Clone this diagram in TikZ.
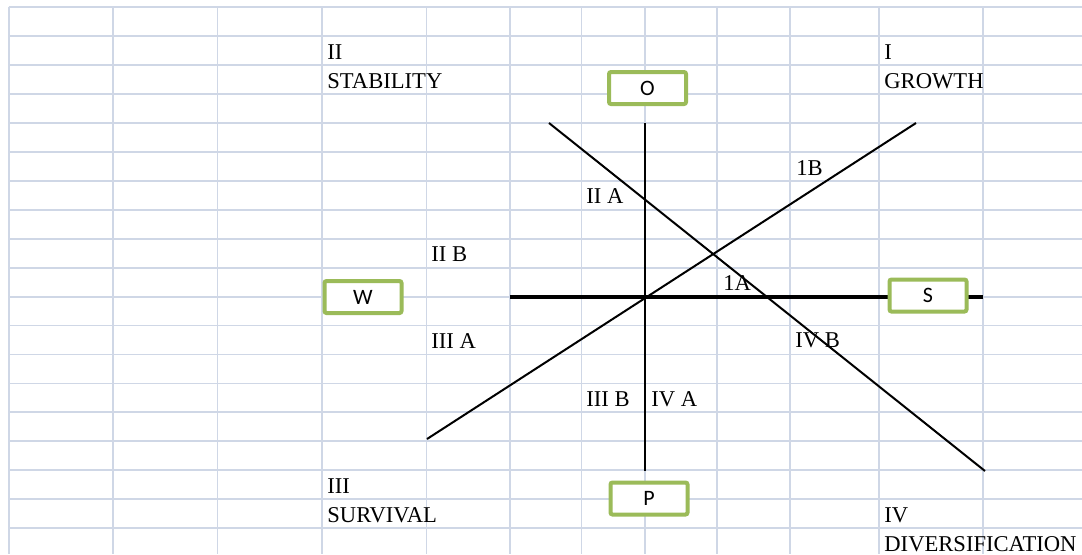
\documentclass[tikz,border=0pt]{standalone}
\usepackage{fontspec}
\setmainfont{Liberation Serif}
\newfontfamily\boxfont{Carlito}
\usetikzlibrary{positioning, calc}

\begin{document}
\begin{tikzpicture}[x=0.5pt, y=-0.5pt]
% --- GRID, GREEN BOXES AND AXES ---
\definecolor{gridline}{HTML}{CFD7E6}
\definecolor{boxgreen}{HTML}{9BBB59}
\tikzset{
  cell/.style={draw=gridline, line width=0.9pt},
  swotbox/.style={draw=boxgreen, line width=2pt, fill=white, rounded corners=1pt,
    minimum width=38.5pt, minimum height=16pt, inner sep=0pt,
    font=\boxfont\fontsize{11}{12}\selectfont},
  tag/.style={anchor=base west, inner sep=0pt, font=\fontsize{11.3}{13}\selectfont},
  axis/.style={line width=1pt},
}
\useasboundingbox (0,0) rectangle (1082,554);
\fill[white] (0,0) rectangle (1082,554);

% LAYER 1: Spreadsheet grid
\foreach \gy in {0,...,18}
  \draw[cell] (8.6,{7.3+28.93*\gy}) -- (1082,{7.3+28.93*\gy});
\foreach \gx in {8.6,112.7,217.5,322,426.5,510,581.5,645,717,790,879,983}
  \draw[cell] (\gx,7.3) -- (\gx,554);

% LAYER 2: Axes and diagonals
\coordinate (wend) at (510,297);
\coordinate (eend) at (983,297);
\coordinate (nend) at (645,123);
\coordinate (send) at (645,471);
\coordinate (nw) at (549,123);
\coordinate (se) at (985,471);
\coordinate (sw) at (427,439);
\coordinate (ne) at (916,123);
\draw[axis, line width=1.6pt] (wend) -- (eend);
\draw[axis] (nend) -- (send);
\draw[axis] (nw) -- (se);
\draw[axis] (sw) -- (ne);

% LAYER 3: SWOT boxes
\node[swotbox] (O) at (647.5,88) {O};
\node[swotbox] (W) at (363,297) {W};
\node[swotbox] (S) at (928,295.5) {S};
\node[swotbox] (P) at (649,498.5) {P};

% LAYER 4: Quadrant names
\node[tag] (q2) at (327,59) {II};
\node[tag] (stability) at (327,88) {STABILITY};
\node[tag] (q1) at (884,59) {I};
\node[tag] (growth) at (884,88) {GROWTH};
\node[tag] (q3) at (327,493) {III};
\node[tag] (survival) at (327,522) {SURVIVAL};
\node[tag] (q4) at (884,522) {IV};
\node[tag] (diversification) at (884,551) {DIVERSIFICATION};

% LAYER 5: Sector labels
\node[tag] (s1b) at (796,175) {1B};
\node[tag] (s2a) at (586,203) {II A};
\node[tag] (s2b) at (431,261) {II B};
\node[tag] (s1a) at (723,290) {1A};
\node[tag] (s3a) at (431,348) {III A};
\node[tag] (s4b) at (795,347) {IV B};
\node[tag] (s3b) at (586,406) {III B};
\node[tag] (s4a) at (651,406) {IV A};
\end{tikzpicture}
\end{document}
